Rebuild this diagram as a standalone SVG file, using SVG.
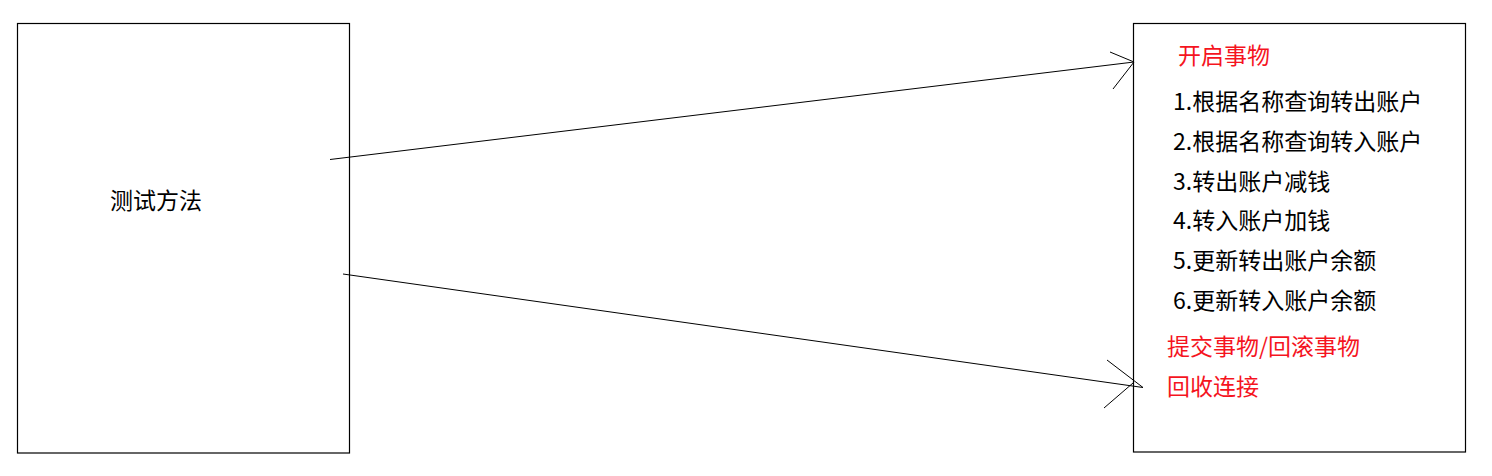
<svg xmlns="http://www.w3.org/2000/svg" width="1492" height="476" viewBox="0 0 1492 476">
<style>
.box{fill:#fff;stroke:#000;stroke-width:1.2}
.t{font-family:"Microsoft YaHei","Noto Sans CJK SC",sans-serif;font-size:23px;fill:#000}
.r{fill:#f5141e}
.c{fill:none;stroke:#000;stroke-width:1}
</style>
<rect width="1492" height="476" fill="#fff"/>
<g id="node-test">
<rect class="box" x="17.5" y="23.5" width="332" height="429.5"/>
<text class="t" x="110" y="209">测试方法</text>
</g>
<g id="node-steps">
<rect class="box" x="1133.5" y="23.5" width="332" height="428.5"/>
<text class="t r" x="1178" y="64">开启事物</text>
<text class="t" x="1173" y="110">1.根据名称查询转出账户</text>
<text class="t" x="1173" y="150">2.根据名称查询转入账户</text>
<text class="t" x="1173" y="190">3.转出账户减钱</text>
<text class="t" x="1173" y="229">4.转入账户加钱</text>
<text class="t" x="1173" y="269">5.更新转出账户余额</text>
<text class="t" x="1173" y="309">6.更新转入账户余额</text>
<text class="t r" x="1167" y="355">提交事物/回滚事物</text>
<text class="t r" x="1167" y="395">回收连接</text>
</g>
<g id="connectors">
<path class="c" d="M330 159.5 L1134 62 M1110 52 L1134 62 L1113 89"/>
<path class="c" d="M343 274 L1143 387.5 M1107 360 L1143 387.5 M1104 408 L1133 383"/>
</g>
</svg>
